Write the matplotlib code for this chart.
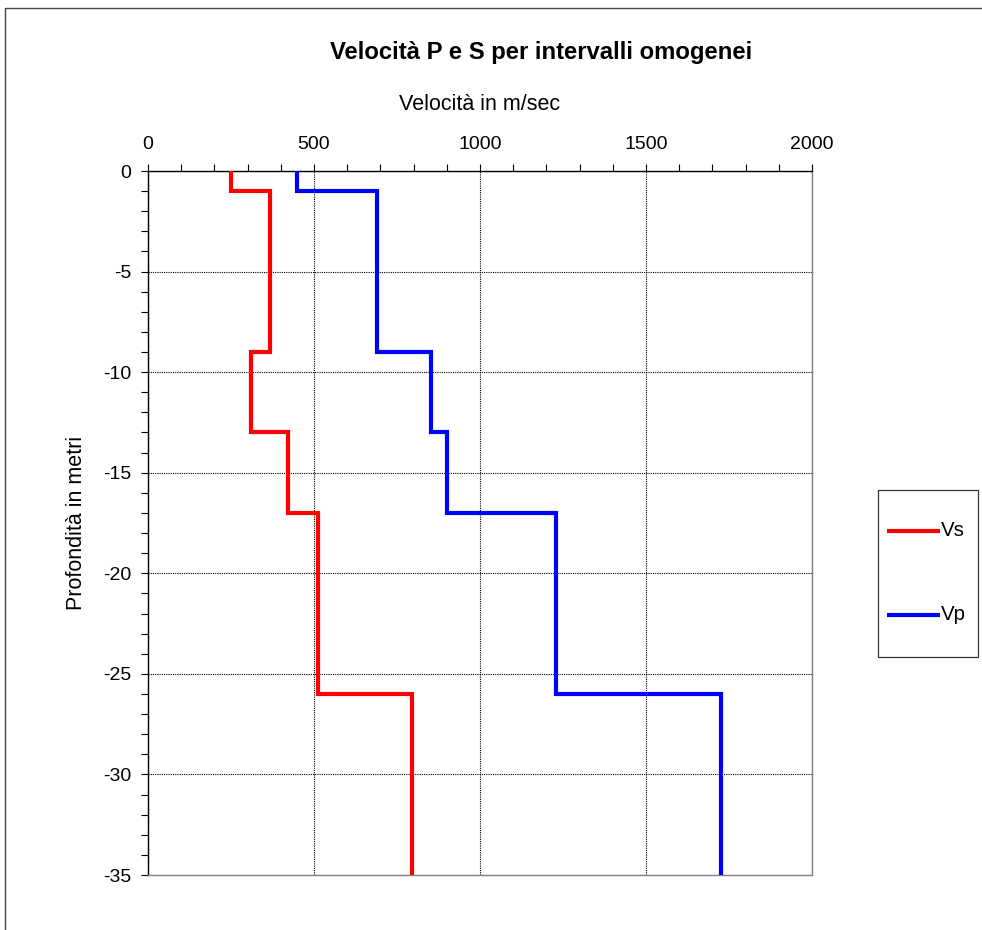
import matplotlib
matplotlib.use("Agg")
import matplotlib.pyplot as plt
from matplotlib.ticker import MultipleLocator
from matplotlib.patches import Rectangle
from matplotlib.lines import Line2D

plt.rcParams['font.family'] = ['Liberation Sans', 'DejaVu Sans']
plt.rcParams['axes.unicode_minus'] = False

# Layer boundaries (m) and interval velocities (m/s)
layer_depths = [0, 1, 9, 13, 17, 26, 35]
vs_values = [250, 366, 311, 422, 512, 794]
vp_values = [448, 691, 851, 902, 1230, 1727]

series_labels = ['Vs', 'Vp']
series_colors = ['#ff0000', '#0000ff']

title = "Velocità P e S per intervalli omogenei"
xlabel = "Velocità in m/sec"
ylabel = "Profondità in metri"

W, H = 982, 930


def step_profile(values, depths):
    xs, ys = [], []
    for i, v in enumerate(values):
        xs += [v, v]
        ys += [-depths[i], -depths[i + 1]]
    return xs, ys


def fx(px):
    return px / W


def fy(py):
    return 1 - py / H


fig = plt.figure(figsize=(W / 100, H / 100), dpi=100)
ax = fig.add_axes([fx(148), fy(875), (812 - 148) / W, (875 - 171) / H])

for values, lab, col in zip([vs_values, vp_values], series_labels, series_colors):
    xs, ys = step_profile(values, layer_depths)
    ax.plot(xs, ys, color=col, lw=3, label=lab, solid_joinstyle='miter',
            solid_capstyle='butt', clip_on=False, zorder=3)

ax.set_xlim(0, 2000)
ax.set_ylim(-35, 0)
ax.xaxis.set_major_locator(MultipleLocator(500))
ax.xaxis.set_minor_locator(MultipleLocator(100))
ax.yaxis.set_major_locator(MultipleLocator(5))
ax.yaxis.set_minor_locator(MultipleLocator(1))

ax.xaxis.tick_top()
ax.tick_params(axis='x', which='both', top=True, bottom=False, direction='out',
               labelsize=14, pad=8)
ax.tick_params(axis='y', which='both', left=True, right=False, direction='out',
               labelsize=14, pad=7)
ax.tick_params(which='both', length=5, width=0.8)

for side in ('left', 'top'):
    ax.spines[side].set_linewidth(1.0)
for side in ('right', 'bottom'):
    ax.spines[side].set_color('#808080')
    ax.spines[side].set_linestyle((0, (1, 1)))
    ax.spines[side].set_linewidth(1.0)

ax.grid(True, which='major', color='black', linestyle=(0, (1, 1)), linewidth=0.8)
ax.set_axisbelow(True)

fig.text(fx(541), fy(53), title, ha='center', va='center',
         fontsize=17.2, fontweight='bold')
fig.text(fx(480), fy(105), xlabel, ha='center', va='center', fontsize=15.5)
fig.text(fx(77), fy(523), ylabel, ha='center', va='center', fontsize=15.5,
         rotation=90)

# legend box
fig.add_artist(Rectangle((fx(878), fy(657)), (978 - 878) / W, (657 - 490) / H,
                         transform=fig.transFigure, fill=False,
                         edgecolor='#333333', linewidth=0.9))
for lab, col, py in zip(series_labels, series_colors, [531, 615]):
    fig.add_artist(Line2D([fx(887), fx(940)], [fy(py), fy(py)],
                          transform=fig.transFigure, color=col, lw=3,
                          solid_capstyle='butt'))
    fig.text(fx(941), fy(py), lab, ha='left', va='center', fontsize=14.8)

# outer chart border
fig.add_artist(Rectangle((fx(5), -0.1), 1.2, fy(8) + 0.1,
                         transform=fig.transFigure, fill=False,
                         edgecolor='#444444', linewidth=1.0))

fig.savefig('out.png', dpi=100)
